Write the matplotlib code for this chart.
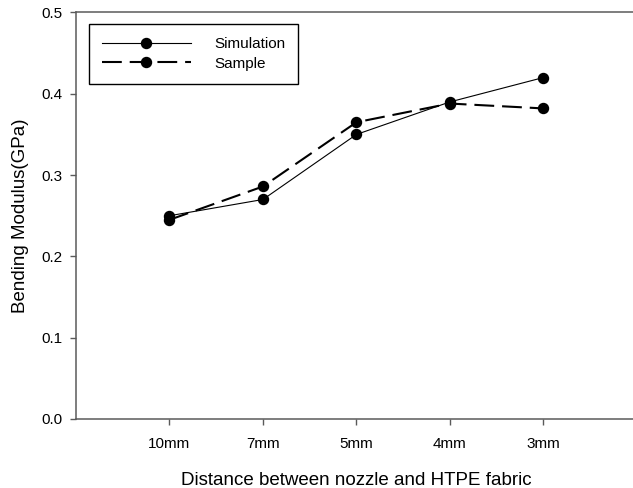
import matplotlib
matplotlib.use("Agg")
import matplotlib.pyplot as plt

plt.rcParams['font.family'] = ['Liberation Sans', 'DejaVu Sans']

distances = ["10mm", "7mm", "5mm", "4mm", "3mm"]
simulation = [0.25, 0.27, 0.35, 0.39, 0.42]
sample = [0.245, 0.286, 0.365, 0.388, 0.382]

fig = plt.figure(figsize=(6.33, 4.88), dpi=100)
# axes runs a little past the right edge of the picture, like the original
ax = fig.add_axes([0.1201, 0.1414, 0.886, 0.833])

x = list(range(1, len(distances) + 1))
ax.plot(x, simulation, color="black", lw=0.8, marker="o", ms=7.2, label="Simulation")
ax.plot(x, sample, color="black", lw=1.5, marker="o", ms=7.2, dashes=(9.5, 3.8), label="Sample")

ax.set_xlim(0, 6)
ax.set_ylim(0, 0.5)
ax.set_xticks(x)
ax.set_xticklabels(distances)
ax.set_yticks([0.0, 0.1, 0.2, 0.3, 0.4, 0.5])
ax.set_yticklabels(["0.0", "0.1", "0.2", "0.3", "0.4", "0.5"])

for side in ["left", "bottom", "top"]:
    ax.spines[side].set_color("#5a5a5a")
    ax.spines[side].set_linewidth(1.1)
ax.spines["right"].set_visible(False)
ax.tick_params(direction="out", length=4.3, width=1, color="#5a5a5a", labelsize=11)
ax.tick_params(axis="y", pad=5.5)
ax.tick_params(axis="x", pad=8.5)

ax.set_xlabel("Distance between nozzle and HTPE fabric", fontsize=13.5, labelpad=15)
ax.set_ylabel("Bending Modulus(GPa)", fontsize=13.5, labelpad=9)

leg = ax.legend(loc="upper left", bbox_to_anchor=(0.0232, 0.9705), handlelength=5.8,
                handletextpad=1.55, borderpad=0.85, labelspacing=0.35, fontsize=11,
                borderaxespad=0, fancybox=False, framealpha=1, edgecolor="black")
leg.get_frame().set_linewidth(1.0)

fig.savefig("out.png", dpi=100)
